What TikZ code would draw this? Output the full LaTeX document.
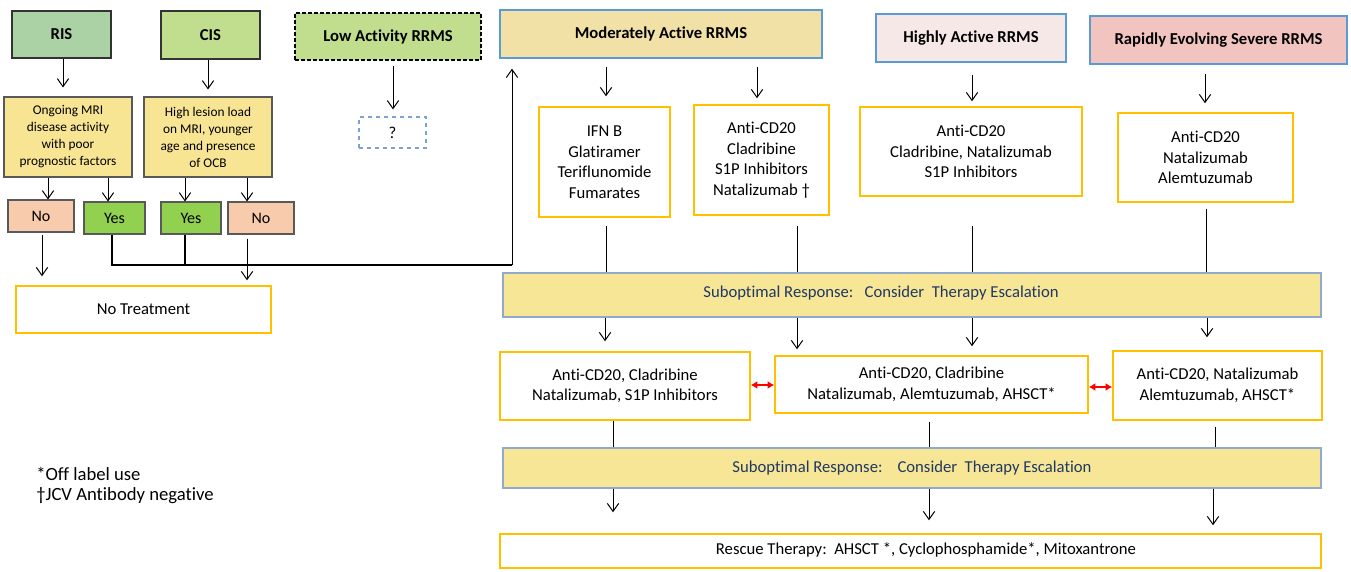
\documentclass[tikz,border=0pt]{standalone}
\usepackage{fontspec}
\setmainfont{Carlito}[Ligatures=NoCommon]
\usepackage{xcolor}
\usepackage{tikz}
\usetikzlibrary{arrows.meta, calc}
\definecolor{risgreen}{RGB}{170,210,165}
\definecolor{cisgreen}{RGB}{193,222,143}
\definecolor{crityellow}{RGB}{248,229,148}
\definecolor{nopeach}{RGB}{248,203,173}
\definecolor{yesgreen}{RGB}{146,208,80}
\definecolor{modtan}{RGB}{242,225,166}
\definecolor{hapink}{RGB}{247,232,232}
\definecolor{repink}{RGB}{242,196,192}
\definecolor{subyellow}{RGB}{247,230,150}
\definecolor{subedge}{RGB}{143,170,205}
\definecolor{subtext}{RGB}{31,56,100}
\definecolor{catblue}{RGB}{91,155,213}
\definecolor{qblue}{RGB}{125,160,215}
\definecolor{drugedge}{RGB}{255,192,0}
\tikzset{sz/.style 2 args={minimum width=#1*0.75pt, minimum height=#2*0.75pt}}

\begin{document}
\begin{tikzpicture}[x=0.75pt, y=-0.75pt,
        every node/.style={font=\fontsize{12.5}{15.4}\selectfont, align=center, inner sep=0pt},
        entry/.style={draw=black!80, line width=1pt, font=\bfseries\fontsize{12.5}{15}\selectfont},
        crit/.style={draw=black!65, line width=0.8pt, fill=crityellow, font=\fontsize{10}{12.75}\selectfont},
        yesbox/.style={draw=black!65, line width=0.8pt, fill=yesgreen, font=\fontsize{12}{14}\selectfont},
        nobox/.style={draw=black!65, line width=0.8pt, fill=nopeach, font=\fontsize{12}{14}\selectfont},
        cat/.style={draw=catblue, line width=1pt, font=\bfseries\fontsize{12.5}{15}\selectfont},
        drug/.style={draw=drugedge, line width=1.1pt, fill=white},
        sub/.style={draw=subedge, line width=0.8pt, fill=subyellow, text=subtext},
        note/.style={anchor=west, align=left, font=\fontsize{14}{16}\selectfont},
        arr/.style={-{Straight Barb[length=6pt, width=8.5pt]}, line width=0.75pt},
        link/.style={line width=0.75pt},
        joinl/.style={line width=1.5pt},
        dbl/.style={{Latex[length=5pt, width=6pt]}-{Latex[length=5pt, width=6pt]}, red, line width=1pt}]
      \useasboundingbox (0,0) rectangle (1351,571);

      \node[entry, fill=risgreen, sz={99}{47}] (ris) at (61.5,34.5) {RIS};
      \node[entry, fill=cisgreen, sz={99}{48}] (cis) at (210.5,35) {CIS};
      \node[entry, fill=cisgreen, draw=black, dash pattern=on 3pt off 1.5pt, line width=0.9pt, sz={186}{47}] (low) at (388,36.5) {Low Activity RRMS};
      \node[draw=qblue, dashed, line width=0.9pt, sz={67}{31}] (unk) at (392.5,132.5) {?};

      \node[crit, sz={128}{80}] (mri) at (68,137) {Ongoing MRI\\disease activity\\with poor\\prognostic factors};
      \node[crit, sz={128}{80}] (lesion) at (208,137) {High lesion load\\on MRI, younger\\age and presence\\of OCB};
      \node[nobox, sz={66}{32}] (noA) at (41,216) {No};
      \node[yesbox, sz={61}{32}] (yesA) at (114.5,218) {Yes};
      \node[yesbox, sz={60}{32}] (yesB) at (191,218) {Yes};
      \node[nobox, sz={66}{32}] (noB) at (261,218) {No};
      \node[drug, sz={255}{47}] (notx) at (143.5,309.5) {No Treatment};

      \node[cat, fill=modtan, sz={322}{48}] (mod) at (661,34) {Moderately Active RRMS};
      \node[cat, fill=hapink, sz={190}{48}] (high) at (971,38) {Highly Active RRMS};
      \node[cat, fill=repink, sz={257}{48}] (rapid) at (1218.5,40) {Rapidly Evolving Severe RRMS};

      \node[drug, sz={131}{110}] (platform) at (604.5,162) {IFN B\\Glatiramer\\Teriflunomide\\Fumarates};
      \node[drug, sz={135}{110}] (modhigh) at (761.5,160) {Anti-CD20\\Cladribine\\S1P Inhibitors\\Natalizumab †};
      \node[drug, sz={222}{89}] (hadrug) at (971,151.5) {Anti-CD20\\Cladribine, Natalizumab\\S1P Inhibitors};
      \node[drug, sz={175}{89}] (redrug) at (1205.5,157.5) {Anti-CD20\\Natalizumab\\Alemtuzumab};

      \node[sub, sz={818}{44}] (esc1) at (912,295) {};
      \node[text=subtext] (esc1txt) at (881,293) {Suboptimal Response:\ \ \ Consider\ \ Therapy Escalation};

      \node[drug, sz={250}{68}] (stepA) at (625,386) {Anti-CD20, Cladribine\\Natalizumab, S1P Inhibitors};
      \node[drug, sz={313}{57}] (stepB) at (931.5,384.5) {Anti-CD20, Cladribine\\Natalizumab, Alemtuzumab, AHSCT*};
      \node[drug, sz={209}{69}] (stepC) at (1217.5,385.5) {Anti-CD20, Natalizumab\\Alemtuzumab, AHSCT*};

      \node[sub, sz={818}{40}] (esc2) at (912,468) {Suboptimal Response:\ \ \ \ Consider\ \ Therapy Escalation};
      \node[drug, sz={821}{34}] (rescue) at (910.5,551) {};
      \node (rescuetxt) at (926,550) {Rescue Therapy:\ \ AHSCT *, Cyclophosphamide*, Mitoxantrone};

      \node[note] (offlabel) at (36,474) {*Off label use};
      \node[note] (jcv) at (36,496) {†JCV Antibody negative};

      \draw[arr, shorten >=6.75pt] (ris.south -| 63,0) -- (mri.north -| 63,0);
      \draw[arr, shorten >=5.25pt] (cis.south -| 208,0) -- (lesion.north -| 208,0);
      \draw[arr, shorten <=3.75pt, shorten >=5.25pt] (low.south -| 393,0) -- (unk.north -| 393,0);
      \draw[arr] (mri.south -| 48,0) -- (noA.north -| 48,0);
      \draw[arr] (mri.south -| 108,0) -- (yesA.north -| 108,0);
      \draw[arr] (lesion.south -| 185,0) -- (yesB.north -| 185,0);
      \draw[arr] (lesion.south -| 247,0) -- (noB.north -| 247,0);
      \draw[arr, shorten <=1.5pt, shorten >=6.75pt] (noA.south -| 42,0) -- (notx.north -| 42,0);
      \draw[arr, shorten <=3pt, shorten >=3.75pt] (noB.south -| 247,0) -- (notx.north -| 247,0);

      \coordinate (merge) at (512,265);
      \draw[joinl] (yesA.south -| 112,0) |- (merge);
      \draw[joinl] (yesB.south -| 185,0) -- (merge -| 185,0);
      \draw[arr, shorten >=7.5pt] (merge) -- (merge |- mod.south);

      \draw[arr, shorten <=6pt, shorten >=7.5pt] (mod.south -| 606,0) -- (platform.north -| 606,0);
      \draw[arr, shorten <=6pt, shorten >=4.5pt] (mod.south -| 757,0) -- (modhigh.north -| 757,0);
      \draw[arr, shorten <=9pt, shorten >=3.75pt] (high.south -| 972,0) -- (hadrug.north -| 972,0);
      \draw[arr, shorten <=6.75pt, shorten >=6.75pt] (rapid.south -| 1205,0) -- (redrug.north -| 1205,0);

      \draw[link, shorten <=6pt] (platform.south -| 606,0) -- (esc1.north -| 606,0);
      \draw[link, shorten <=7.5pt] (modhigh.south -| 797,0) -- (esc1.north -| 797,0);
      \draw[link, shorten <=21.75pt] (hadrug.south -| 972,0) -- (esc1.north -| 972,0);
      \draw[link, shorten <=4.5pt] (redrug.south -| 1206,0) -- (esc1.north -| 1206,0);

      \draw[arr, shorten >=7.5pt] (esc1.south -| 605,0) -- (stepA.north -| 605,0);
      \draw[arr, shorten >=4.5pt] (esc1.south -| 797,0) -- (stepB.north -| 797,0);
      \draw[arr, shorten >=6.75pt] (esc1.south -| 972,0) -- (stepB.north -| 972,0);
      \draw[arr, shorten >=9.75pt] (esc1.south -| 1207,0) -- (stepC.north -| 1207,0);

      \draw[dbl] (stepA.east |- 0,385) -- (stepB.west |- 0,385);
      \draw[dbl] (stepB.east |- 0,387) -- (stepC.west |- 0,387);

      \draw[link] (stepA.south -| 613,0) -- (esc2.north -| 613,0);
      \draw[link, shorten <=6pt] (stepB.south -| 929,0) -- (esc2.north -| 929,0);
      \draw[link, shorten <=4.5pt] (stepC.south -| 1215,0) -- (esc2.north -| 1215,0);

      \draw[arr, shorten >=15.75pt] (esc2.south -| 613,0) -- (rescue.north -| 613,0);
      \draw[arr, shorten >=9.75pt] (esc2.south -| 929,0) -- (rescue.north -| 929,0);
      \draw[arr, shorten >=6pt] (esc2.south -| 1213,0) -- (rescue.north -| 1213,0);
    \end{tikzpicture}
\end{document}
